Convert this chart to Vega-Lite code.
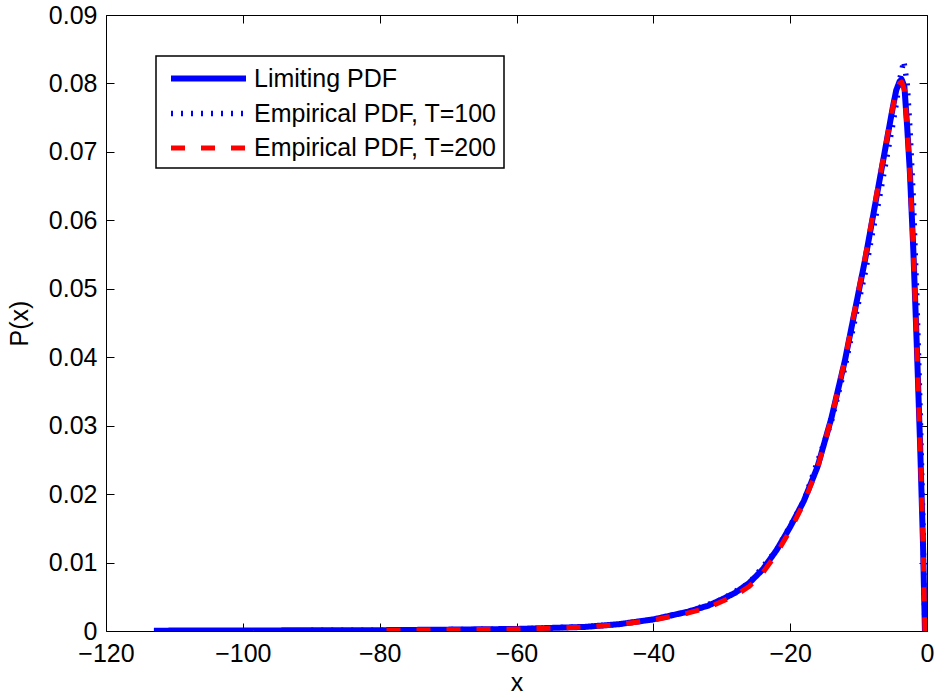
{
  "$schema": "https://vega.github.io/schema/vega-lite/v6.json",
  "width": 821,
  "height": 616,
  "autosize": {"type": "none"},
  "padding": {"left": 106, "top": 15, "right": 11, "bottom": 65},
  "background": "white",
  "data": {
    "values": [
      {"series": "Limiting PDF", "x": -113, "y": 0.00005},
      {"series": "Limiting PDF", "x": -100, "y": 0.00008},
      {"series": "Limiting PDF", "x": -90, "y": 0.0001},
      {"series": "Limiting PDF", "x": -80, "y": 0.00012},
      {"series": "Limiting PDF", "x": -70, "y": 0.0002},
      {"series": "Limiting PDF", "x": -60, "y": 0.0003},
      {"series": "Limiting PDF", "x": -55, "y": 0.00045},
      {"series": "Limiting PDF", "x": -50, "y": 0.0006},
      {"series": "Limiting PDF", "x": -45, "y": 0.001},
      {"series": "Limiting PDF", "x": -40, "y": 0.0017},
      {"series": "Limiting PDF", "x": -35, "y": 0.0028},
      {"series": "Limiting PDF", "x": -32, "y": 0.0037},
      {"series": "Limiting PDF", "x": -30, "y": 0.0046},
      {"series": "Limiting PDF", "x": -28, "y": 0.0056},
      {"series": "Limiting PDF", "x": -26, "y": 0.007},
      {"series": "Limiting PDF", "x": -24, "y": 0.009},
      {"series": "Limiting PDF", "x": -22, "y": 0.0118},
      {"series": "Limiting PDF", "x": -20, "y": 0.0152},
      {"series": "Limiting PDF", "x": -18, "y": 0.019},
      {"series": "Limiting PDF", "x": -16, "y": 0.024},
      {"series": "Limiting PDF", "x": -14, "y": 0.031},
      {"series": "Limiting PDF", "x": -12, "y": 0.0395},
      {"series": "Limiting PDF", "x": -10, "y": 0.0495},
      {"series": "Limiting PDF", "x": -9, "y": 0.0545},
      {"series": "Limiting PDF", "x": -8, "y": 0.06},
      {"series": "Limiting PDF", "x": -7, "y": 0.0655},
      {"series": "Limiting PDF", "x": -6, "y": 0.071},
      {"series": "Limiting PDF", "x": -5, "y": 0.0765},
      {"series": "Limiting PDF", "x": -4.5, "y": 0.079},
      {"series": "Limiting PDF", "x": -4, "y": 0.0803},
      {"series": "Limiting PDF", "x": -3.7, "y": 0.0806},
      {"series": "Limiting PDF", "x": -3.3, "y": 0.0795},
      {"series": "Limiting PDF", "x": -2.9, "y": 0.0737},
      {"series": "Limiting PDF", "x": -2.5, "y": 0.067},
      {"series": "Limiting PDF", "x": -2.0, "y": 0.0557},
      {"series": "Limiting PDF", "x": -1.5, "y": 0.042},
      {"series": "Limiting PDF", "x": -1.0, "y": 0.027},
      {"series": "Limiting PDF", "x": -0.6, "y": 0.0133},
      {"series": "Limiting PDF", "x": -0.3, "y": 0.0},

      {"series": "Empirical PDF, T=100", "x": -90, "y": 0.0001},
      {"series": "Empirical PDF, T=100", "x": -80, "y": 0.00012},
      {"series": "Empirical PDF, T=100", "x": -70, "y": 0.0002},
      {"series": "Empirical PDF, T=100", "x": -60, "y": 0.0003},
      {"series": "Empirical PDF, T=100", "x": -50, "y": 0.0006},
      {"series": "Empirical PDF, T=100", "x": -45, "y": 0.001},
      {"series": "Empirical PDF, T=100", "x": -40, "y": 0.0017},
      {"series": "Empirical PDF, T=100", "x": -35, "y": 0.0028},
      {"series": "Empirical PDF, T=100", "x": -30, "y": 0.0046},
      {"series": "Empirical PDF, T=100", "x": -26, "y": 0.007},
      {"series": "Empirical PDF, T=100", "x": -22, "y": 0.0118},
      {"series": "Empirical PDF, T=100", "x": -18, "y": 0.019},
      {"series": "Empirical PDF, T=100", "x": -14, "y": 0.0305},
      {"series": "Empirical PDF, T=100", "x": -12, "y": 0.0385},
      {"series": "Empirical PDF, T=100", "x": -10, "y": 0.048},
      {"series": "Empirical PDF, T=100", "x": -9, "y": 0.0525},
      {"series": "Empirical PDF, T=100", "x": -8, "y": 0.058},
      {"series": "Empirical PDF, T=100", "x": -7, "y": 0.063},
      {"series": "Empirical PDF, T=100", "x": -6, "y": 0.0685},
      {"series": "Empirical PDF, T=100", "x": -5, "y": 0.074},
      {"series": "Empirical PDF, T=100", "x": -4.5, "y": 0.077},
      {"series": "Empirical PDF, T=100", "x": -4, "y": 0.0805},
      {"series": "Empirical PDF, T=100", "x": -3.4, "y": 0.0833},
      {"series": "Empirical PDF, T=100", "x": -2.9, "y": 0.08},
      {"series": "Empirical PDF, T=100", "x": -2.5, "y": 0.0735},
      {"series": "Empirical PDF, T=100", "x": -2.0, "y": 0.063},
      {"series": "Empirical PDF, T=100", "x": -1.5, "y": 0.049},
      {"series": "Empirical PDF, T=100", "x": -1.0, "y": 0.032},
      {"series": "Empirical PDF, T=100", "x": -0.6, "y": 0.016},
      {"series": "Empirical PDF, T=100", "x": -0.3, "y": 0.0},

      {"series": "Empirical PDF, T=200", "x": -79, "y": 0.0001},
      {"series": "Empirical PDF, T=200", "x": -70, "y": 0.00018},
      {"series": "Empirical PDF, T=200", "x": -60, "y": 0.00028},
      {"series": "Empirical PDF, T=200", "x": -55, "y": 0.0004},
      {"series": "Empirical PDF, T=200", "x": -50, "y": 0.00055},
      {"series": "Empirical PDF, T=200", "x": -45, "y": 0.00095},
      {"series": "Empirical PDF, T=200", "x": -40, "y": 0.0016},
      {"series": "Empirical PDF, T=200", "x": -35, "y": 0.0026},
      {"series": "Empirical PDF, T=200", "x": -32, "y": 0.0034},
      {"series": "Empirical PDF, T=200", "x": -30, "y": 0.0043},
      {"series": "Empirical PDF, T=200", "x": -28, "y": 0.0052},
      {"series": "Empirical PDF, T=200", "x": -26, "y": 0.0065},
      {"series": "Empirical PDF, T=200", "x": -24, "y": 0.0085},
      {"series": "Empirical PDF, T=200", "x": -22, "y": 0.0113},
      {"series": "Empirical PDF, T=200", "x": -20, "y": 0.0147},
      {"series": "Empirical PDF, T=200", "x": -18, "y": 0.0187},
      {"series": "Empirical PDF, T=200", "x": -16, "y": 0.0238},
      {"series": "Empirical PDF, T=200", "x": -14, "y": 0.031},
      {"series": "Empirical PDF, T=200", "x": -12, "y": 0.0396},
      {"series": "Empirical PDF, T=200", "x": -10, "y": 0.0497},
      {"series": "Empirical PDF, T=200", "x": -9, "y": 0.0548},
      {"series": "Empirical PDF, T=200", "x": -8, "y": 0.0603},
      {"series": "Empirical PDF, T=200", "x": -7, "y": 0.0658},
      {"series": "Empirical PDF, T=200", "x": -6, "y": 0.0712},
      {"series": "Empirical PDF, T=200", "x": -5, "y": 0.0765},
      {"series": "Empirical PDF, T=200", "x": -4.5, "y": 0.0788},
      {"series": "Empirical PDF, T=200", "x": -4, "y": 0.08},
      {"series": "Empirical PDF, T=200", "x": -3.7, "y": 0.0802},
      {"series": "Empirical PDF, T=200", "x": -3.3, "y": 0.079},
      {"series": "Empirical PDF, T=200", "x": -2.9, "y": 0.0735},
      {"series": "Empirical PDF, T=200", "x": -2.5, "y": 0.0668},
      {"series": "Empirical PDF, T=200", "x": -2.0, "y": 0.0556},
      {"series": "Empirical PDF, T=200", "x": -1.5, "y": 0.042},
      {"series": "Empirical PDF, T=200", "x": -1.0, "y": 0.027},
      {"series": "Empirical PDF, T=200", "x": -0.6, "y": 0.0133},
      {"series": "Empirical PDF, T=200", "x": -0.3, "y": 0.0}
    ]
  },
  "layer": [
    {
      "mark": {"type": "line", "strokeJoin": "round", "clip": true},
      "encoding": {
        "x": {
          "field": "x", "type": "quantitative",
          "scale": {"domain": [-120, 0], "nice": false, "zero": false},
          "axis": {"orient": "bottom", "title": "x", "values": [-120, -100, -80, -60, -40, -20, 0], "titlePadding": 4, "labelPadding": 18, "labelFlush": false, "labelOverlap": false,
                   "encode": {"labels": {"update": {"dx": {"signal": "datum.value < 0 ? -8 : -2"}}}}}
        },
        "y": {
          "field": "y", "type": "quantitative",
          "scale": {"domain": [0, 0.09], "nice": false, "zero": false},
          "axis": {"orient": "left", "title": "P(x)", "values": [0, 0.01, 0.02, 0.03, 0.04, 0.05, 0.06, 0.07, 0.08, 0.09],
                   "labelExpr": "datum.value == 0 ? '0' : format(datum.value, '.2f')", "titlePadding": 16, "labelPadding": 17, "labelFlush": false, "labelOverlap": false}
        },
        "color": {
          "field": "series", "type": "nominal",
          "scale": {"domain": ["Limiting PDF", "Empirical PDF, T=100", "Empirical PDF, T=200"], "range": ["#0000ff", "#0000ff", "#ff0000"]},
          "legend": {"title": null}
        },
        "strokeDash": {
          "field": "series", "type": "nominal",
          "scale": {"domain": ["Limiting PDF", "Empirical PDF, T=100", "Empirical PDF, T=200"], "range": [[1, 0], [2, 8], [14, 16]]},
          "legend": {"title": null}
        },
        "strokeWidth": {
          "field": "series", "type": "nominal",
          "scale": {"domain": ["Limiting PDF", "Empirical PDF, T=100", "Empirical PDF, T=200"], "range": [6, 5, 4]},
          "legend": {"title": null}
        }
      }
    },
    {
      "mark": {"type": "line", "opacity": 0},
      "encoding": {
        "x": {
          "field": "x", "type": "quantitative",
          "axis": {"orient": "top", "title": null, "labels": false, "values": [-120, -100, -80, -60, -40, -20, 0]}
        },
        "y": {
          "field": "y", "type": "quantitative",
          "axis": {"orient": "right", "title": null, "labels": false, "values": [0, 0.01, 0.02, 0.03, 0.04, 0.05, 0.06, 0.07, 0.08, 0.09]}
        },
        "detail": {"field": "series"}
      }
    }
  ],
  "resolve": {"axis": {"x": "independent", "y": "independent"}},
  "config": {
    "font": "Liberation Sans",
    "view": {"stroke": "black", "strokeWidth": 1},
    "axis": {
      "labelFont": "Liberation Sans", "labelFontSize": 25, "labelColor": "black",
      "titleFont": "Liberation Sans", "titleFontSize": 25, "titleFontWeight": "normal", "titleColor": "black",
      "tickColor": "black", "tickSize": -8, "labelPadding": 8, "domain": false, "grid": false
    },
    "legend": {
      "orient": "none", "legendX": 50, "legendY": 41,
      "strokeColor": "black", "strokeWidth": 1.5, "fillColor": "white", "padding": 7, "symbolOffset": 30,
      "labelFont": "Liberation Sans", "labelFontSize": 25, "labelColor": "black",
      "symbolType": "M-3,0H3", "symbolSize": 625, "labelOffset": 30, "rowPadding": 6, "labelLimit": 500
    }
  }
}
